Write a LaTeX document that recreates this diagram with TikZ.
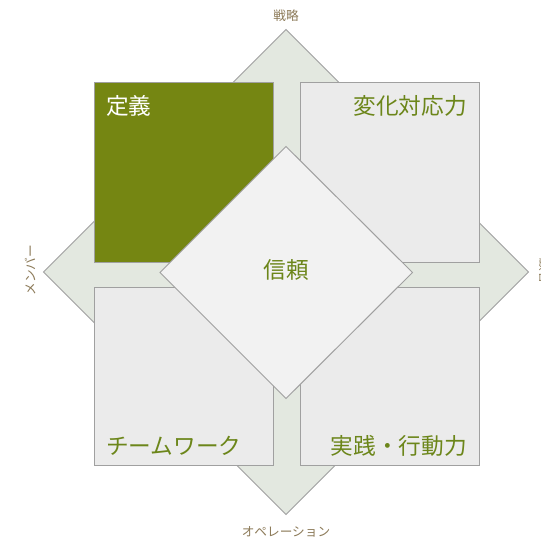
\documentclass[tikz,border=0pt]{standalone}
\usepackage{fontspec}
\setmainfont{Noto Sans CJK JP}
\definecolor{oliveG}{RGB}{117,134,18}
\definecolor{labelG}{RGB}{108,134,26}
\definecolor{axisB}{RGB}{140,122,88}
\definecolor{bigD}{RGB}{227,232,224}
\definecolor{sqF}{RGB}{235,235,235}
\definecolor{cenF}{RGB}{242,242,242}
\definecolor{edgeG}{RGB}{160,160,160}
\tikzset{
  shapeline/.style={draw=edgeG, line width=0.75pt},
  bigtext/.style={inner sep=0pt, font=\fontsize{17}{20}\selectfont, text=labelG},
  axislabel/.style={inner sep=0pt, font=\fontsize{9.5}{11}\selectfont, text=axisB}
}
\begin{document}
\begin{tikzpicture}[x=0.75pt,y=-0.75pt]
\useasboundingbox (0,0) rectangle (540,541);
\fill[white] (0,0) rectangle (540,541);
% big background diamond
\draw[shapeline, fill=bigD] (286,29.5) -- (528.5,272) -- (286,514.5) -- (43.5,272) -- cycle;
% four squares
\draw[shapeline, fill=oliveG] (94,83) rectangle (273,262);
\draw[shapeline, fill=sqF] (300,83) rectangle (479,262);
\draw[shapeline, fill=sqF] (94,287) rectangle (273,465);
\draw[shapeline, fill=sqF] (300,287) rectangle (479,465);
% centre diamond
\draw[shapeline, fill=cenF] (286,146.5) -- (412.5,272.5) -- (286,398.5) -- (160,272.5) -- cycle;
% texts
\node[bigtext, text=white, anchor=west] (def) at (106,105.5) {定義};
\node[bigtext, anchor=east] (chg) at (467,105.5) {変化対応力};
\node[bigtext] (trust) at (286,270) {信頼};
\node[bigtext, anchor=west] (team) at (106,446) {チームワーク};
\node[bigtext, anchor=east] (act) at (467,446) {実践・行動力};
% axis labels
\node[axislabel] (top) at (286,15.5) {戦略};
\node[axislabel] (bot) at (286,532) {オペレーション};
\node[axislabel, rotate=90] (lft) at (31,270) {メンバー};
\node[axislabel, rotate=-90] (rgt) at (545,271) {顧客};
\end{tikzpicture}
\end{document}
